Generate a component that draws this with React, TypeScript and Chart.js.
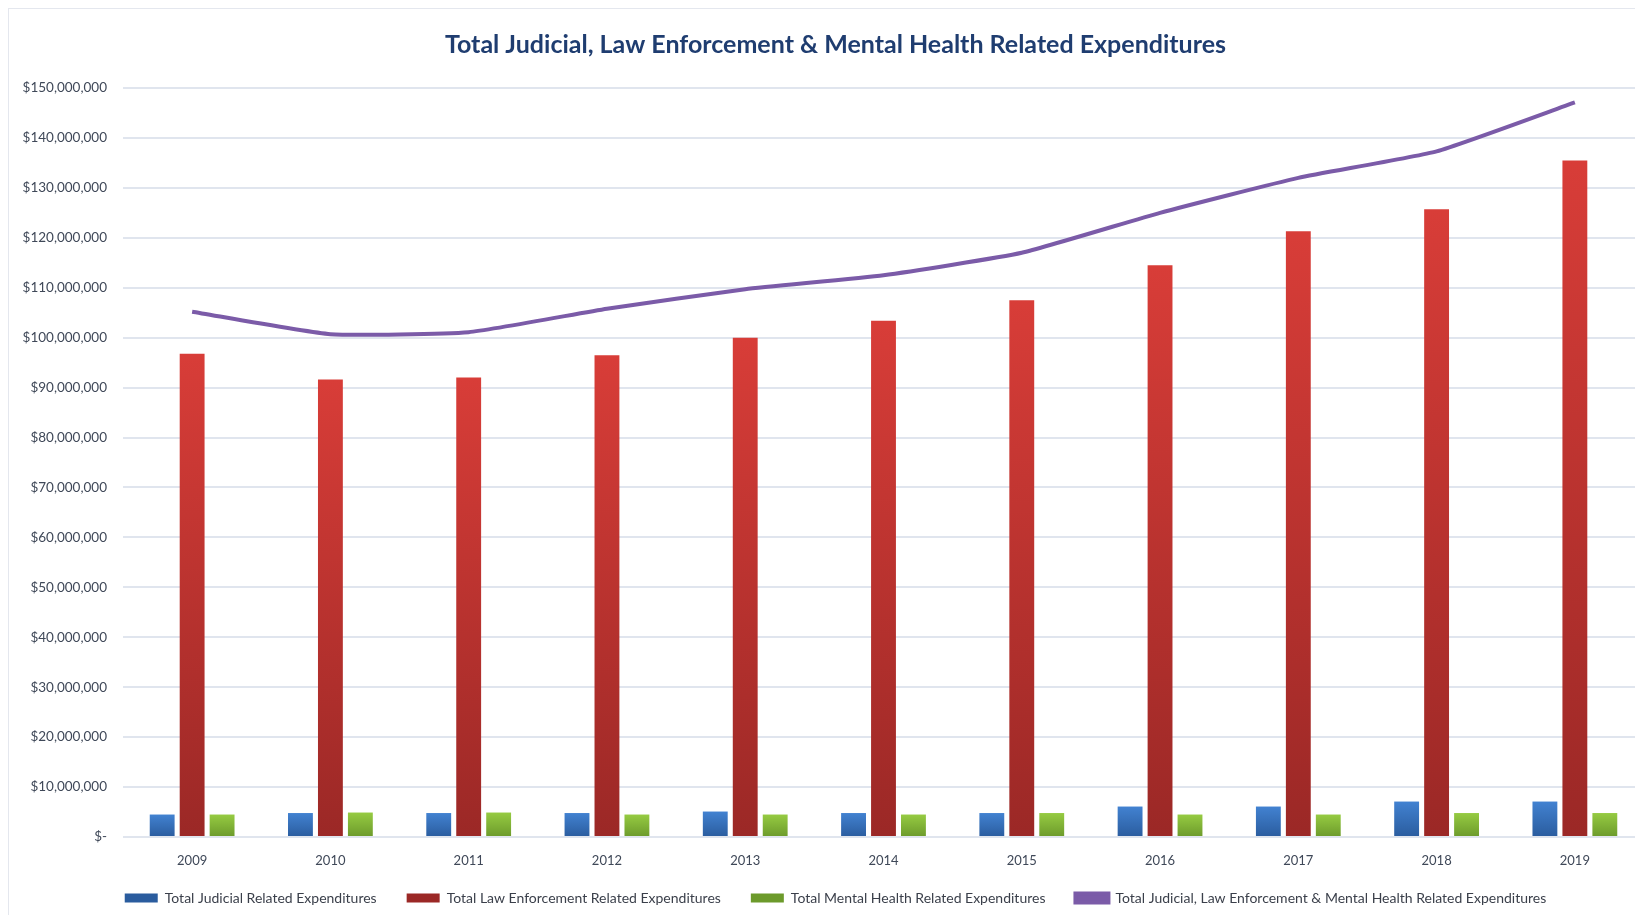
import React, { useEffect, useRef } from "react";
import { Chart, registerables } from "chart.js";

Chart.register(...registerables);

const years = ["2009", "2010", "2011", "2012", "2013", "2014", "2015", "2016", "2017", "2018", "2019"];
const judicial = [4.5, 4.8, 4.8, 4.8, 5.1, 4.8, 4.8, 6.1, 6.1, 7.1, 7.1].map((v) => v * 1e6);
const lawEnforcement = [96.8, 91.6, 92.0, 96.5, 100.0, 103.4, 107.5, 114.5, 121.3, 125.7, 135.5].map((v) => v * 1e6);
const mentalHealth = [4.5, 4.9, 4.9, 4.5, 4.5, 4.5, 4.8, 4.5, 4.5, 4.8, 4.8].map((v) => v * 1e6);
const totalAll = [105.2, 100.7, 101.1, 105.8, 109.7, 112.5, 117.0, 125.0, 132.0, 137.3, 147.1].map((v) => v * 1e6);

const seriesNames = [
  "Total Judicial Related Expenditures",
  "Total Law Enforcement Related Expenditures",
  "Total Mental Health Related Expenditures",
  "Total Judicial, Law Enforcement & Mental Health Related Expenditures",
];
const titleText = "Total Judicial, Law Enforcement & Mental Health Related Expenditures";

function barGradient(top: string, bottom: string, solid: string) {
  return (ctx: any) => {
    if (ctx.type !== "data") return solid;
    const chart = ctx.chart;
    if (!chart.chartArea || !chart.scales || !chart.scales.y) return solid;
    const y = chart.scales.y;
    const yTop = y.getPixelForValue(ctx.raw);
    const yBot = y.getPixelForValue(0);
    if (!isFinite(yTop) || !isFinite(yBot) || yBot - yTop < 1) return solid;
    const g = chart.ctx.createLinearGradient(0, yTop, 0, yBot);
    g.addColorStop(0, top);
    g.addColorStop(1, bottom);
    return g;
  };
}

export default function App() {
  const canvasRef = useRef<HTMLCanvasElement | null>(null);

  useEffect(() => {
    document.documentElement.style.overflow = "hidden";
    const canvas = canvasRef.current;
    if (!canvas) return;
    const font = "Lato";
    const chart = new Chart(canvas, {
      type: "bar",
      data: {
        labels: years,
        datasets: [
          {
            type: "bar",
            label: seriesNames[0],
            data: judicial,
            backgroundColor: barGradient("#4282d1", "#2a5c9e", "#3570ba"),
            categoryPercentage: 0.65,
            barPercentage: 0.83,
          },
          {
            type: "bar",
            label: seriesNames[1],
            data: lawEnforcement,
            backgroundColor: barGradient("#d83d38", "#9b2826", "#c23330"),
            categoryPercentage: 0.65,
            barPercentage: 0.83,
          },
          {
            type: "bar",
            label: seriesNames[2],
            data: mentalHealth,
            backgroundColor: barGradient("#96cb42", "#6c9a2b", "#86b83a"),
            categoryPercentage: 0.65,
            barPercentage: 0.83,
          },
          {
            type: "line",
            label: seriesNames[3],
            data: totalAll,
            borderColor: "#7b5ba8",
            backgroundColor: "#7b5ba8",
            borderWidth: 4,
            pointRadius: 0,
            tension: 0.15,
            fill: false,
          },
        ],
      },
      options: {
        animation: false,
        responsive: false,
        maintainAspectRatio: false,
        layout: { padding: { left: 18, right: 21, top: 0, bottom: 0 } },
        plugins: {
          title: {
            display: true,
            text: titleText,
            color: "#1f3d70",
            font: { family: font, size: 25, weight: "bold" },
            padding: { top: 21, bottom: 28 },
          },
          legend: {
            display: true,
            position: "bottom",
            labels: {
              boxWidth: 33,
              boxHeight: 9,
              padding: 30,
              color: "#3a3f4a",
              font: { family: font, size: 14 },
            },
          },
          tooltip: { enabled: false },
        },
        scales: {
          x: {
            grid: { display: false, drawTicks: false },
            border: { display: false },
            ticks: {
              color: "#3f4858",
              font: { family: font, size: 13 },
              padding: 16,
            },
            afterFit: (scale: any) => {
              scale.height = 24;
              scale._computeLabelArea = () => undefined;
            },
          },
          y: {
            min: 0,
            max: 150000000,
            grid: { color: "#e0e5ee", lineWidth: 2, drawTicks: false },
            border: { display: false },
            ticks: {
              stepSize: 10000000,
              color: "#3f4858",
              font: { family: font, size: 13.5 },
              padding: 16,
              callback: (v: any) => (Number(v) === 0 ? "$-" : "$" + Number(v).toLocaleString("en-US")),
            },
            afterFit: (scale: any) => {
              scale.width = 96;
              scale._computeLabelArea = () => undefined;
            },
          },
        },
      },
    });
    return () => {
      chart.destroy();
    };
  }, []);

  return (
    <div
      style={{
        width: 1635,
        height: 907,
        overflow: "hidden",
        borderTop: "1px solid #e4e7ee",
        borderLeft: "1px solid #e4e7ee",
        boxSizing: "border-box",
        background: "#ffffff",
      }}
    >
      <canvas ref={canvasRef} width={1656} height={906} style={{ display: "block", width: 1656, height: 906 }} />
    </div>
  );
}
